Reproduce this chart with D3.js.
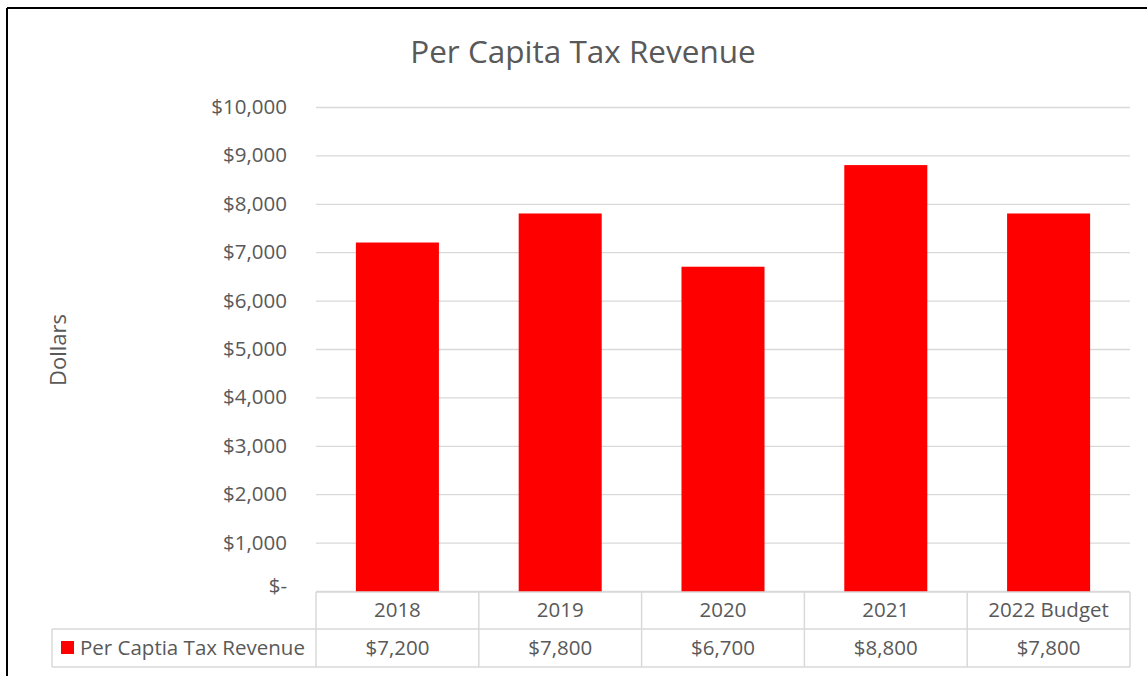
<!DOCTYPE html>
<html>
<head>
<meta charset="utf-8">
<script src="https://cdn.jsdelivr.net/npm/d3@7"></script>
<style>
  html, body { margin: 0; padding: 0; background: #fff; }
  svg { display: block; font-family: "Open Sans", "Noto Sans", sans-serif; }
</style>
</head>
<body>
<svg id="chart" width="1147" height="676"></svg>
<script>
// Per capita tax revenue by year
const categories = ["2018", "2019", "2020", "2021", "2022 Budget"];
const revenue = [7200, 7800, 6700, 8800, 7800];
const seriesName = "Per Captia Tax Revenue";
const yTicks = [0, 1000, 2000, 3000, 4000, 5000, 6000, 7000, 8000, 9000, 10000];

const svg = d3.select("#chart");
const textColor = "#595959";
const gridColor = "#d9d9d9";
const barColor = "#ff0000";

const plot = { left: 316, right: 1130, top: 107, bottom: 592 };
const rowH = [plot.bottom, 629, 667];
const tableLeft = 52;

const x = d3.scaleBand().domain(categories).range([plot.left, plot.right]).paddingInner(0.49).paddingOuter(0.245);
const xCell = d3.scaleBand().domain(categories).range([plot.left, plot.right]);
const y = d3.scaleLinear().domain([0, 10000]).range([plot.bottom - 1, plot.top]);

// outer frame (top and left edges)
svg.append("line").attr("x1", 7).attr("x2", 1147).attr("y1", 8).attr("y2", 8)
  .attr("stroke", "#000").attr("stroke-width", 2);
svg.append("line").attr("x1", 7).attr("x2", 7).attr("y1", 8).attr("y2", 676)
  .attr("stroke", "#000").attr("stroke-width", 2);

// title
svg.append("text").attr("x", 583).attr("y", 63).attr("text-anchor", "middle")
  .attr("fill", textColor).style("font-size", "31.5px").text("Per Capita Tax Revenue");

// y axis with gridlines
const fmt = v => v === 0 ? "$-" : "$" + d3.format(",")(v);
const yAxis = d3.axisLeft(y).tickValues(yTicks).tickFormat(fmt)
  .tickSize(-(plot.right - plot.left)).tickPadding(29);
const gy = svg.append("g").attr("transform", `translate(${plot.left},0)`).call(yAxis);
gy.select(".domain").remove();
gy.selectAll(".tick line").attr("stroke", gridColor).attr("stroke-width", 1.3);
gy.selectAll(".tick text").attr("fill", textColor).style("font-size", "20.5px")
  .attr("font-family", "'Open Sans', sans-serif");
gy.selectAll(".tick").filter(d => d === 0).select("text").attr("dy", "0.05em");

// axis title
svg.append("text").attr("transform", "translate(66,350) rotate(-90)")
  .attr("text-anchor", "middle").attr("fill", textColor).style("font-size", "22px").text("Dollars");

// bars
svg.append("g").selectAll("rect").data(categories).join("rect")
  .attr("x", d => x(d)).attr("width", x.bandwidth())
  .attr("y", (d, i) => y(revenue[i]))
  .attr("height", (d, i) => y(0) - y(revenue[i]) + 1)
  .attr("fill", barColor);

// data table
const tbl = svg.append("g").attr("stroke", gridColor).attr("stroke-width", 1.5).attr("fill", "none");
tbl.append("line").attr("x1", plot.left).attr("x2", plot.right).attr("y1", rowH[0]).attr("y2", rowH[0]);
tbl.append("line").attr("x1", tableLeft).attr("x2", plot.right).attr("y1", rowH[1]).attr("y2", rowH[1]);
tbl.append("line").attr("x1", tableLeft).attr("x2", plot.right).attr("y1", rowH[2]).attr("y2", rowH[2]);
tbl.append("line").attr("x1", tableLeft).attr("x2", tableLeft).attr("y1", rowH[1]).attr("y2", rowH[2]);
const edges = categories.map(c => xCell(c)).concat([plot.right]);
tbl.selectAll(".v").data(edges).join("line").attr("class", "v")
  .attr("x1", d => d).attr("x2", d => d).attr("y1", rowH[0]).attr("y2", rowH[2]);

const tFont = "20.5px";
svg.append("g").selectAll("text").data(categories).join("text")
  .attr("x", d => xCell(d) + xCell.bandwidth() / 2).attr("y", 617)
  .attr("text-anchor", "middle").attr("fill", textColor).style("font-size", tFont).text(d => d);

svg.append("g").selectAll("text").data(revenue).join("text")
  .attr("x", (d, i) => xCell(categories[i]) + xCell.bandwidth() / 2).attr("y", 655)
  .attr("text-anchor", "middle").attr("fill", textColor).style("font-size", tFont)
  .text(d => "$" + d3.format(",")(d));

// legend key in the table
svg.append("rect").attr("x", 61).attr("y", 641).attr("width", 13).attr("height", 13).attr("fill", barColor);
svg.append("text").attr("x", 80).attr("y", 655).attr("fill", textColor).style("font-size", tFont)
  .text(seriesName);
</script>
</body>
</html>
